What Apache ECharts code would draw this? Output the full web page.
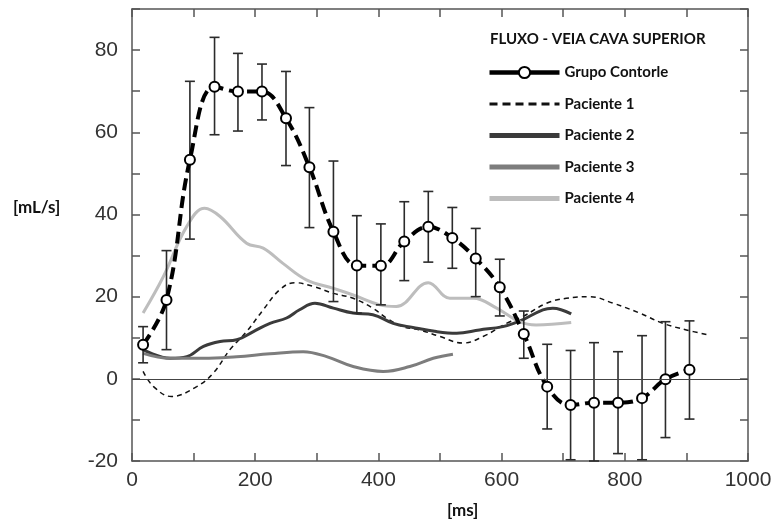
<!DOCTYPE html>
<html>
<head>
<meta charset="utf-8">
<script src="https://cdn.jsdelivr.net/npm/echarts@6/dist/echarts.min.js"></script>
<style>
  html, body { margin: 0; padding: 0; background: #fff; }
  #chart { width: 779px; height: 524px; }
</style>
</head>
<body>
<div id="chart"></div>
<script>
// control group: time [ms], mean, error bar top / bottom [mL/s]
var ctrlX = [18, 56, 94, 134, 172, 211, 250, 288, 327, 365, 404, 442, 481, 520, 558, 597, 636, 674, 712, 750, 789, 828, 866, 905];
var ctrlY = [8.3, 19.2, 53.3, 71.1, 69.9, 69.9, 63.4, 51.5, 35.8, 27.6, 27.5, 33.4, 37.0, 34.3, 29.3, 22.3, 10.9, -1.9, -6.4, -5.8, -5.8, -4.7, -0.1, 2.2];
var ctrlHi = [12.7, 31.2, 72.4, 83.1, 79.2, 76.6, 74.8, 66.0, 53.0, 39.7, 37.7, 43.1, 45.6, 41.7, 36.6, 29.1, 16.5, 8.4, 6.9, 8.8, 6.6, 10.5, 13.9, 14.1];
var ctrlLo = [3.9, 7.1, 34.0, 59.4, 60.3, 63.0, 51.9, 36.8, 18.8, 16.0, 18.0, 23.9, 28.4, 26.9, 20.0, 15.3, 5.0, -12.2, -19.7, -20.0, -18.2, -19.7, -14.3, -9.8];

// patients: [ms, mL/s]
var pac1 = [[18, 1.8], [35, -1.9], [64, -4.3], [105, -1.9], [132, 1.4], [159, 7.1], [186, 11.5], [213, 16.8], [240, 21.7], [264, 23.4], [294, 22.5], [327, 20.8], [359, 19.6], [391, 17.2], [413, 14.8], [440, 12.7], [467, 11.9], [500, 10.3], [537, 8.7], [570, 10.3], [608, 13.5], [635, 15.2], [673, 18.4], [705, 19.6], [743, 20.0], [781, 18.4], [824, 16.0], [862, 13.5], [900, 11.9], [935, 10.7]];
var pac2 = [[18, 7.1], [62, 5.0], [89, 5.4], [116, 7.9], [143, 9.1], [170, 9.5], [197, 11.5], [224, 13.5], [251, 14.8], [272, 16.8], [297, 18.4], [327, 17.2], [359, 16.0], [391, 15.6], [424, 13.5], [456, 12.5], [494, 11.5], [527, 11.1], [564, 11.9], [602, 12.7], [627, 13.9], [635, 14.4], [667, 16.8], [683, 17.2], [713, 15.8]];
var pac3 = [[18, 6.2], [62, 5.0], [116, 5.0], [170, 5.4], [224, 6.1], [278, 6.6], [316, 5.4], [359, 3.0], [408, 1.8], [451, 3.0], [489, 5.0], [521, 6.0]];
var pac4 = [[18, 16.0], [51, 24.9], [89, 37.1], [118, 41.5], [143, 39.5], [186, 33.0], [213, 31.8], [245, 28.1], [283, 24.1], [327, 22.0], [359, 20.4], [402, 18.0], [429, 17.6], [481, 23.4], [516, 19.6], [554, 19.6], [592, 17.2], [629, 13.9], [656, 13.1], [713, 13.7]];

var seriesNames = ['Grupo Contorle', 'Paciente 1', 'Paciente 2', 'Paciente 3', 'Paciente 4'];

var chart = echarts.init(document.getElementById('chart'));

var ctrlData = ctrlX.map(function (x, i) { return [x, ctrlY[i]]; });
var errData = ctrlX.map(function (x, i) { return [x, ctrlHi[i], ctrlLo[i]]; });

var frame = { show: true, onZero: false, lineStyle: { color: '#555', width: 1.5 } };
var tick = { show: true, inside: true, length: 8, lineStyle: { color: '#555', width: 1.5 } };
var labelFont = { fontFamily: 'Liberation Sans', fontSize: 21, color: '#333' };
var boldFont = { fontFamily: 'Lato', fontWeight: 'bold', fontSize: 15, color: '#111' };
var noSymbol = { opacity: 0, color: 'rgba(0,0,0,0)', borderWidth: 0 };

chart.setOption({
    animation: false,
    title: [
        { text: 'FLUXO - VEIA CAVA SUPERIOR', left: 490, top: 32, padding: 0, textStyle: boldFont },
        { text: '[mL/s]', left: 13, top: 199, padding: 0, textStyle: { fontFamily: 'Lato', fontWeight: 'bold', fontSize: 17, color: '#111' } },
        { text: '[ms]', left: 447, top: 502, padding: 0, textStyle: { fontFamily: 'Lato', fontWeight: 'bold', fontSize: 17, color: '#111' } }
    ],
    legend: {
        orient: 'vertical',
        left: 487,
        top: 65,
        padding: 0,
        itemWidth: 70,
        itemHeight: 14,
        itemGap: 16.5,
        textStyle: boldFont,
        data: [
            { name: seriesNames[0], lineStyle: { type: 'solid', width: 4.5 } },
            { name: seriesNames[1], lineStyle: { width: 3, type: [8, 5] }, itemStyle: noSymbol },
            { name: seriesNames[2], lineStyle: { width: 5 }, itemStyle: noSymbol },
            { name: seriesNames[3], lineStyle: { width: 5 }, itemStyle: noSymbol },
            { name: seriesNames[4], lineStyle: { width: 5 }, itemStyle: noSymbol }
        ]
    },
    grid: { left: 132, right: 31, top: 9, bottom: 63 },
    xAxis: [
        {
            type: 'value', min: 0, max: 1000, interval: 100,
            axisLine: frame, axisTick: tick, splitLine: { show: false },
            axisLabel: {
                margin: 9,
                fontFamily: labelFont.fontFamily, fontSize: labelFont.fontSize, color: labelFont.color,
                formatter: function (v) { return v % 200 === 0 ? String(v) : ''; }
            }
        },
        {
            type: 'value', position: 'top', min: 0, max: 1000, interval: 100,
            axisLine: frame, axisTick: tick, splitLine: { show: false }, axisLabel: { show: false }
        }
    ],
    yAxis: [
        {
            type: 'value', min: -20, max: 90, interval: 10,
            axisLine: frame, axisTick: tick, splitLine: { show: false },
            axisLabel: {
                margin: 14,
                fontFamily: labelFont.fontFamily, fontSize: labelFont.fontSize, color: labelFont.color,
                formatter: function (v) { return (v % 20 === 0 && v < 90) ? String(v) : ''; }
            }
        },
        {
            type: 'value', position: 'right', min: -20, max: 90, interval: 10,
            axisLine: frame, axisTick: tick, splitLine: { show: false }, axisLabel: { show: false }
        }
    ],
    series: [
        {
            name: seriesNames[1], type: 'line', data: pac1, smooth: 0.4, symbol: 'none', z: 2,
            lineStyle: { color: '#111', width: 1.5, type: [5, 4] },
            itemStyle: { color: '#111' },
            markLine: {
                silent: true, symbol: 'none', label: { show: false },
                lineStyle: { color: '#444', width: 1, type: 'solid' },
                data: [{ yAxis: 0 }]
            }
        },
        {
            name: seriesNames[2], type: 'line', data: pac2, smooth: 0.4, symbol: 'none', z: 2,
            lineStyle: { color: '#3b3b3b', width: 3 }, itemStyle: { color: '#3b3b3b' }
        },
        {
            name: seriesNames[3], type: 'line', data: pac3, smooth: 0.4, symbol: 'none', z: 2,
            lineStyle: { color: '#7d7d7d', width: 3 }, itemStyle: { color: '#7d7d7d' }
        },
        {
            name: seriesNames[4], type: 'line', data: pac4, smooth: 0.4, symbol: 'none', z: 2,
            lineStyle: { color: '#bdbdbd', width: 3 }, itemStyle: { color: '#bdbdbd' }
        },
        {
            name: 'erro', type: 'custom', data: errData, z: 3,
            encode: { x: 0, y: [1, 2] },
            renderItem: function (params, api) {
                var top = api.coord([api.value(0), api.value(1)]);
                var bot = api.coord([api.value(0), api.value(2)]);
                var w = 5;
                var st = { stroke: '#2b2b2b', lineWidth: 1.6 };
                return {
                    type: 'group',
                    children: [
                        { type: 'line', shape: { x1: top[0], y1: top[1], x2: bot[0], y2: bot[1] }, style: st },
                        { type: 'line', shape: { x1: top[0] - w, y1: top[1], x2: top[0] + w, y2: top[1] }, style: st },
                        { type: 'line', shape: { x1: bot[0] - w, y1: bot[1], x2: bot[0] + w, y2: bot[1] }, style: st }
                    ]
                };
            }
        },
        {
            name: seriesNames[0], type: 'line', data: ctrlData, smooth: 0.4, z: 4,
            symbol: 'circle', symbolSize: 10,
            lineStyle: { color: '#000', width: 4, type: [12, 6] },
            itemStyle: { color: '#fff', borderColor: '#000', borderWidth: 2 }
        }
    ]
});
</script>
</body>
</html>
